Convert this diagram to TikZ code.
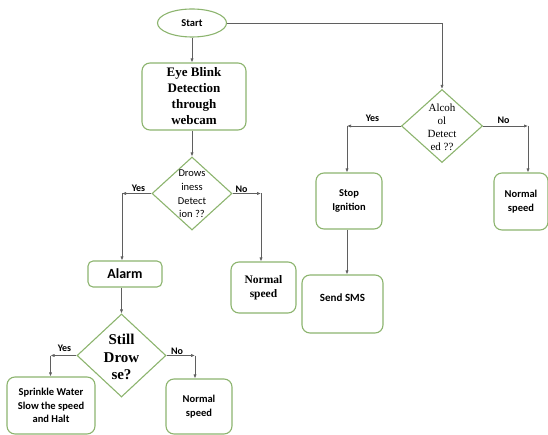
\documentclass[tikz,border=0pt]{standalone}
\usepackage{fontspec}
\setmainfont{Liberation Serif}
\newfontfamily\calfont{Carlito}
\usetikzlibrary{shapes.geometric,arrows.meta}
\definecolor{bgreen}{RGB}{140,180,110}
\definecolor{lgray}{RGB}{95,95,95}
\begin{document}
\begin{tikzpicture}[x=1pt,y=-1pt,
 box/.style={draw=bgreen,line width=1.1pt,rounded corners=8pt,align=center,inner sep=0pt},
 dia/.style={draw=bgreen,line width=1.1pt,diamond,inner sep=0pt},
 dtext/.style={align=center,inner sep=0pt},
 arr/.style={draw=lgray,line width=0.7pt,-{Latex[length=4pt,width=3.2pt]}},
 sans/.style={font=\calfont\bfseries\fontsize{10.5}{13.3}\selectfont},
 lbl/.style={font=\calfont\bfseries\fontsize{10}{12}\selectfont,inner sep=0pt},
]
\useasboundingbox (0,0) rectangle (548,435);

% nodes
\node[draw=bgreen,line width=1.1pt,ellipse,minimum width=69pt,minimum height=28pt,inner sep=0pt,font=\calfont\bfseries\fontsize{10.5}{12}\selectfont] (start) at (192,23) {Start};
\node[box,minimum width=104pt,minimum height=67pt,font=\bfseries\fontsize{13}{16}\selectfont] (eye) at (194,96.5) {Eye Blink\\Detection\\through\\webcam};

\node[dia,minimum width=80pt,minimum height=73pt] (d1) at (192,193.5) {};
\node[dtext,font=\calfont\fontsize{10.5}{13.7}\selectfont] (d1t) at (192,194) {Drows\\iness\\Detect\\ion ??};

\node[box,rounded corners=5pt,minimum width=74pt,minimum height=26pt,font=\calfont\bfseries\fontsize{14}{15}\selectfont] (alarm) at (125,274) {Alarm};
\node[box,minimum width=65pt,minimum height=51pt,font=\bfseries\fontsize{11.5}{13.5}\selectfont] (n1) at (263.5,287.5) {Normal\\speed};

\node[dia,minimum width=89pt,minimum height=83pt] (d2) at (121.5,355.5) {};
\node[dtext,font=\bfseries\fontsize{15}{17.5}\selectfont] (d2t) at (121.5,357) {Still\\Drow\\se?};

\node[box,sans,minimum width=88pt,minimum height=57pt] (spr) at (51,405.5) {Sprinkle Water\\Slow the speed\\and Halt};
\node[box,sans,minimum width=66pt,minimum height=55pt] (n2) at (199,406.5) {Normal\\speed};

\node[dia,minimum width=81pt,minimum height=73pt] (alc) at (442,126) {};
\node[dtext,font=\fontsize{11}{13}\selectfont] (alct) at (442,127) {Alcoh\\ol\\Detect\\ed ??};

\node[box,sans,minimum width=66pt,minimum height=56pt] (stop) at (349,201) {Stop\\Ignition};
\node[box,sans,minimum width=81pt,minimum height=58pt,text height=8pt,text depth=14pt,font=\calfont\bfseries\fontsize{11}{13}\selectfont] (sms) at (342.5,304) {Send SMS};
\node[box,sans,minimum width=54pt,minimum height=57pt] (n3) at (521,201.5) {Normal\\speed};

% corners
\coordinate (c1) at (122,193.5);
\coordinate (c2) at (261,193.5);
\coordinate (c3) at (50.5,355.5);
\coordinate (c4) at (195,355.5);
\coordinate (c5) at (347,126);
\coordinate (c6) at (528,126);

% connectors
\draw[arr] (start.south) -- (start.south |- eye.north);
\draw[arr] (start.east) -| (alc.north);
\draw[arr] (d1.north |- eye.south) -- (d1.north);
\draw[arr] (d1.west) -- (c1);
\draw[arr] (c1) -- (c1 |- alarm.north);
\draw[arr] (d1.east) -- (c2);
\draw[arr] (c2) -- (c2 |- n1.north);
\draw[arr] (d2.north |- alarm.south) -- (d2.north);
\draw[arr] (d2.west) -- (c3);
\draw[arr] (c3) -- (c3 |- spr.north);
\draw[arr] (d2.east) -- (c4);
\draw[arr] (c4) -- (c4 |- n2.north);
\draw[arr] (alc.west) -- (c5);
\draw[arr] (c5) -- (c5 |- stop.north);
\draw[arr] (alc.east) -- (c6);
\draw[arr] (c6) -- (c6 |- n3.north);
\draw[arr] (stop.south -| c5) -- (c5 |- sms.north);

% labels
\node[lbl] (y1) at (138.5,188) {Yes};
\node[lbl] (no1) at (241.5,189) {No};
\node[lbl] (y2) at (64.5,348) {Yes};
\node[lbl] (no2) at (177,351) {No};
\node[lbl] (y3) at (372.5,118) {Yes};
\node[lbl] (no3) at (503.5,120) {No};
\end{tikzpicture}
\end{document}
